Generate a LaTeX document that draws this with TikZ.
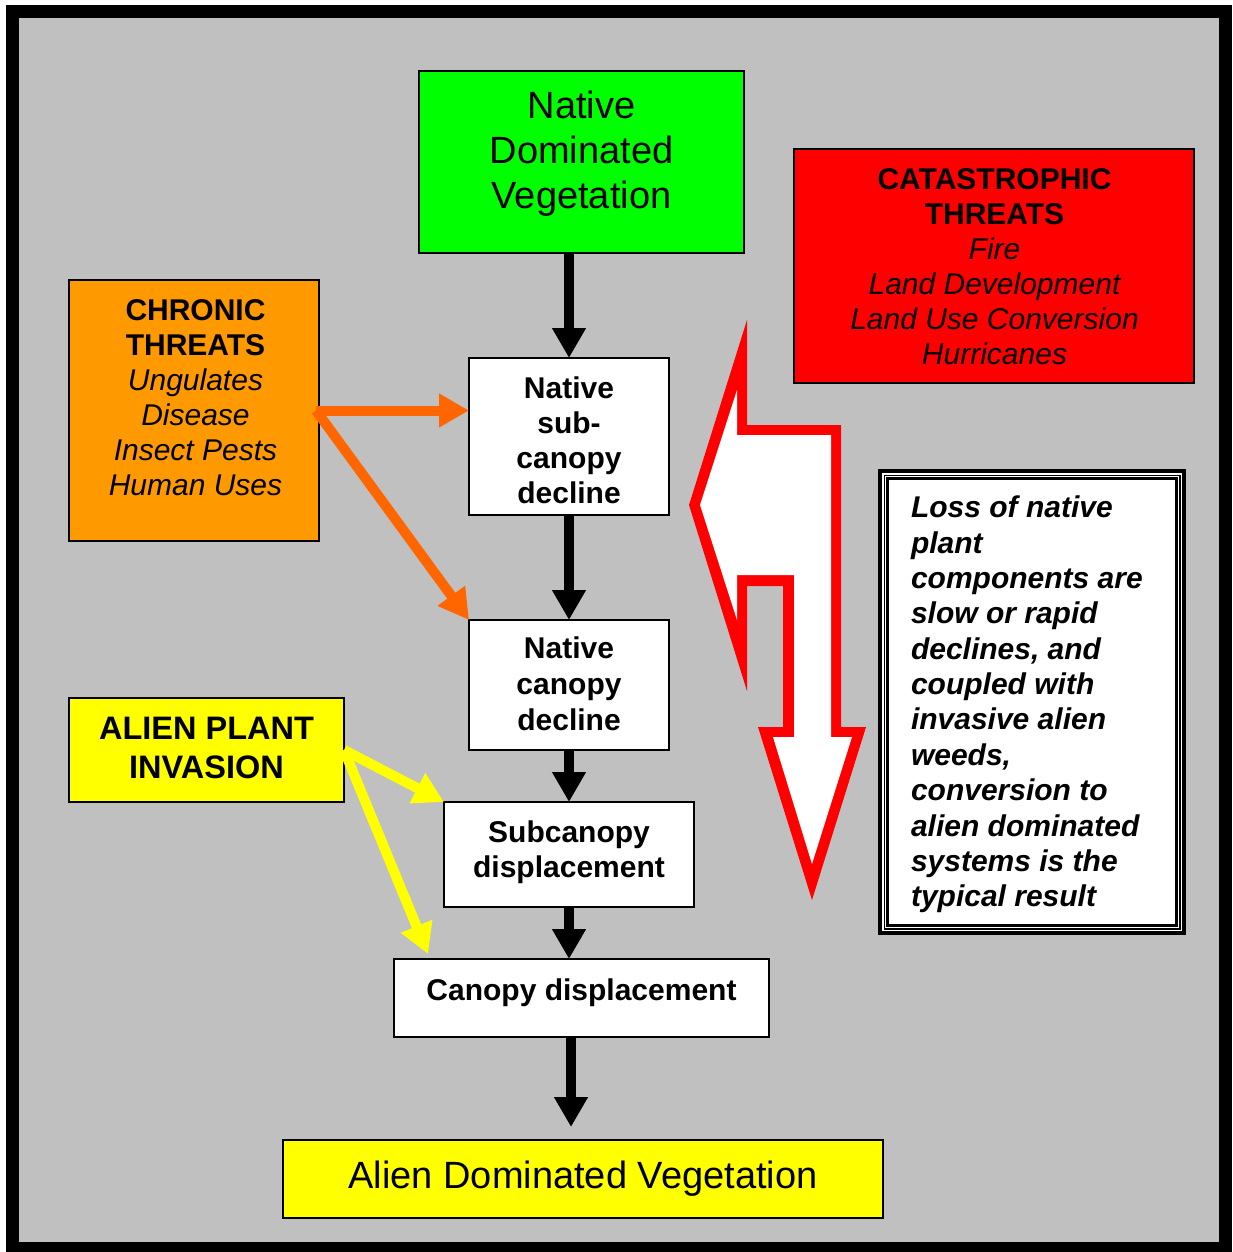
\documentclass[tikz,border=0pt]{standalone}
\usepackage{fontspec}
\setmainfont{Liberation Sans}
\usetikzlibrary{arrows.meta}
\definecolor{bggray}{HTML}{C0C0C0}
\definecolor{boxgreen}{HTML}{00FF00}
\definecolor{boxred}{HTML}{FF0000}
\definecolor{boxorange}{HTML}{FF9900}
\definecolor{arrorange}{HTML}{FF6600}
\definecolor{boxyellow}{HTML}{FFFF00}
\begin{document}
\begin{tikzpicture}[x=1pt,y=-1pt,
  box/.style={draw=black, line width=1.6pt, rectangle, inner sep=0pt, outer sep=0pt},
  txt/.style={inner sep=0pt, outer sep=0pt, align=center},
  big/.style={font=\fontsize{38}{45}\selectfont},
  mid/.style={font=\fontsize{30}{35}\selectfont},
  alienf/.style={font=\fontsize{32.5}{39}\selectfont\bfseries},
  flowarrow/.style={line width=10pt, -{Triangle[length=30pt,width=32pt]}},
]
\useasboundingbox (0,0) rectangle (1232,1252);
% frame and background
\fill[white] (0,0) rectangle (1232,1252);
\fill[black] (6,5) rectangle (1232,1252);
\fill[bggray] (19,18) rectangle (1219,1242);

% boxes
\node[box, fill=boxgreen, minimum width=325pt, minimum height=182pt] (green) at (581.5,162) {};
\node[box, fill=boxred, minimum width=400pt, minimum height=234pt] (cat) at (994,266) {};
\node[box, fill=boxorange, minimum width=250pt, minimum height=261pt] (chron) at (194,410.5) {};
\node[box, fill=boxyellow, minimum width=275pt, minimum height=104pt] (alien) at (206.5,750) {};
\node[box, fill=white, minimum width=200pt, minimum height=157pt] (sub) at (569,436.5) {};
\node[box, fill=white, minimum width=200pt, minimum height=130pt] (can) at (569,685) {};
\node[box, fill=white, minimum width=250pt, minimum height=105pt] (subd) at (569,854.5) {};
\node[box, fill=white, minimum width=375pt, minimum height=78pt] (cand) at (581.5,998) {};
\node[box, fill=boxyellow, minimum width=600pt, minimum height=78pt] (adv) at (583,1179) {};

% black flow arrows
\draw[flowarrow] (sub.north |- green.south) -- (sub.north);
\draw[flowarrow] (sub.south) -- (can.north);
\draw[flowarrow] (can.south) -- (subd.north);
\draw[flowarrow] (subd.south) -- (subd.south |- cand.north);
\draw[flowarrow] ([xshift=-10.5pt]cand.south) -- ([xshift=-12pt,yshift=13pt]adv.north);

% orange arrows
\draw[flowarrow, arrorange] ([xshift=-3pt]chron.east) -- (sub.west |- chron.east);
\draw[flowarrow, arrorange] ([xshift=-3pt]chron.east) -- (can.north west);

% yellow arrows
\draw[flowarrow, boxyellow] (alien.east) -- (subd.north west);
\draw[flowarrow, boxyellow] (alien.east) -- ([xshift=34pt,yshift=5pt]cand.north west);

% big red/white double arrow
\fill[boxred] (747,320) -- (747,425) -- (841,425) -- (841,727) -- (866,727) -- (812,900)
  -- (758,727) -- (783,727) -- (783,586) -- (747,586) -- (747,691) -- (689,505) -- cycle;
\fill[white] (737,390) -- (737,435) -- (831,435) -- (831,737) -- (852,737) -- (812,864)
  -- (773,737) -- (794,737) -- (794,575) -- (737,575) -- (737,620) -- (700,505) -- cycle;

% loss text box with triple border
\fill[black] (878,469) rectangle (1186,935);
\fill[white] (882,473) rectangle (1182,931);
\fill[black] (883.5,474.5) rectangle (1180.5,929.5);
\fill[white] (884.8,475.8) rectangle (1179.2,928.2);
\fill[black] (886,477) rectangle (1178,927);
\fill[white] (889,480) rectangle (1175,924);

% texts
\node[txt, big] (tgreen) at (581.5,154) {Native\\Dominated\\Vegetation};
\node[txt, mid] (tcat) at (994.5,266.5) {{\bfseries CATASTROPHIC}\\{\bfseries THREATS}\\{\itshape Fire}\\{\itshape Land Development}\\{\itshape Land Use Conversion}\\{\itshape Hurricanes}};
\node[txt, mid] (tchron) at (195.5,397.5) {{\bfseries CHRONIC}\\{\bfseries THREATS}\\{\itshape Ungulates}\\{\itshape Disease}\\{\itshape Insect Pests}\\{\itshape Human Uses}};
\node[txt, alienf] (talien) at (206.5,747.5) {ALIEN PLANT\\INVASION};
\node[txt, mid, font=\fontsize{30}{35}\selectfont\bfseries] (tsub) at (569,440) {Native\\sub-\\canopy\\decline};
\node[txt, mid, font=\fontsize{30}{36}\selectfont\bfseries] (tcan) at (569,684) {Native\\canopy\\decline};
\node[txt, mid, font=\fontsize{30}{35}\selectfont\bfseries] (tsubd) at (569,852.5) {Subcanopy\\displacement};
\node[txt, mid, font=\fontsize{30}{35}\selectfont\bfseries] (tcand) at (581.5,993) {Canopy displacement};
\node[txt, big] (tadv) at (583,1179) {Alien Dominated Vegetation};
\node[inner sep=0pt, outer sep=0pt, align=left, anchor=west, font=\fontsize{30}{35.36}\selectfont\bfseries\itshape] (tloss) at (911,704.5)
  {Loss of native\\plant\\components are\\slow or rapid\\declines, and\\coupled with\\invasive alien\\weeds,\\conversion to\\alien dominated\\systems is the\\typical result};
\end{tikzpicture}
\end{document}
